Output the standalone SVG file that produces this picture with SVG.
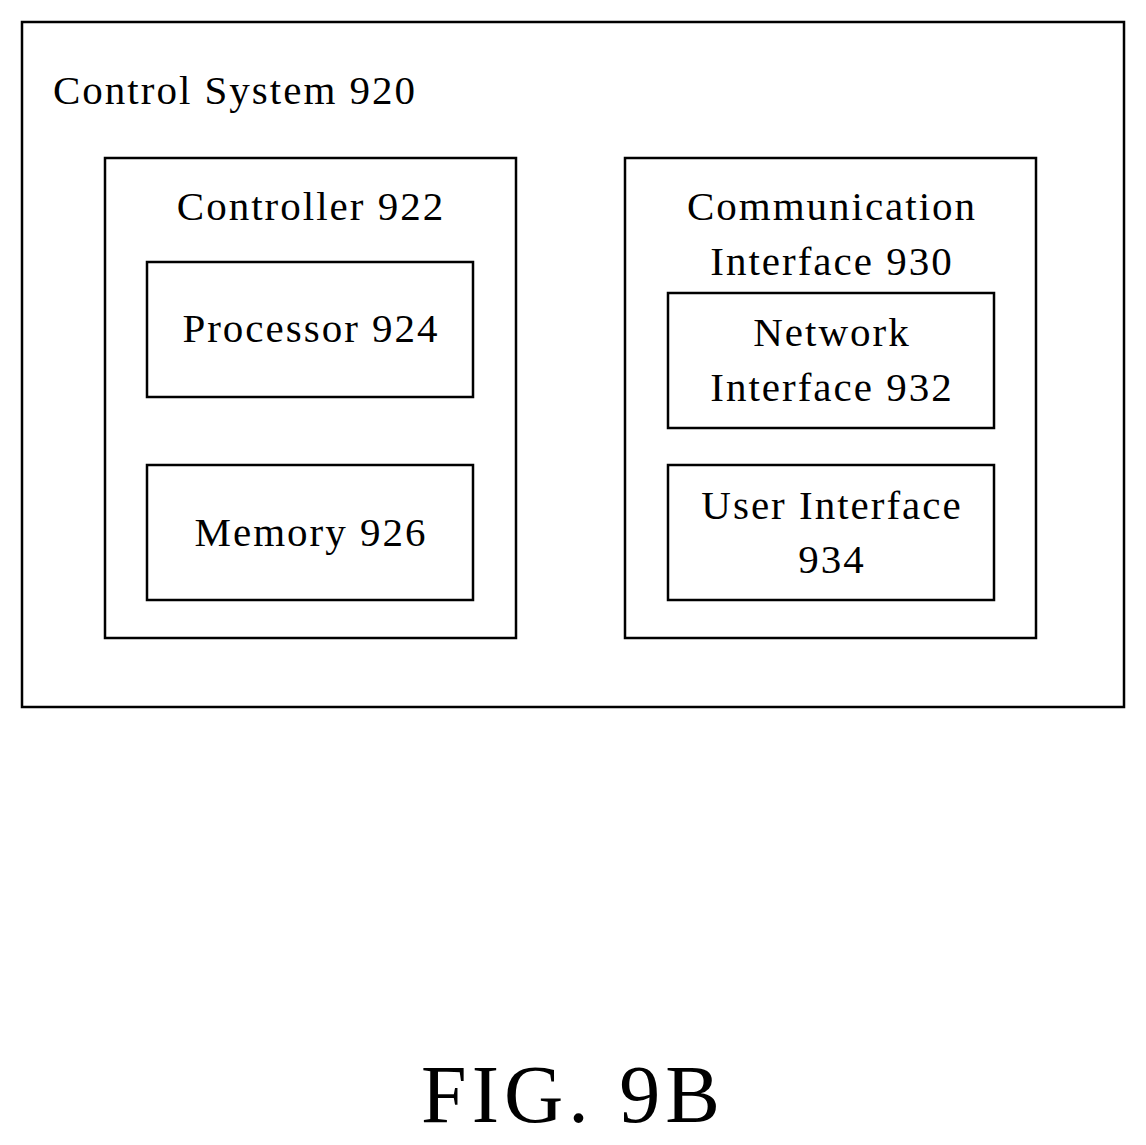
<svg xmlns="http://www.w3.org/2000/svg" width="1146" height="1145" viewBox="0 0 1146 1145">
<style>
rect{fill:none;stroke:#000;stroke-width:2.5}
text{font-family:"Liberation Serif",serif;font-size:41px;letter-spacing:2px;fill:#000}
.c{text-anchor:middle}
</style>
<rect x="0" y="0" width="1146" height="1145" style="fill:#fff;stroke:none"/>
<g id="control-system"><rect x="22" y="22" width="1102" height="685"/><text x="53" y="104">Control System 920</text></g>
<g id="controller"><rect x="105" y="158" width="411" height="480"/><text class="c" x="311" y="220">Controller 922</text></g>
<g id="processor"><rect x="147" y="262" width="326" height="135"/><text class="c" x="311" y="342">Processor 924</text></g>
<g id="memory"><rect x="147" y="465" width="326" height="135"/><text class="c" x="311" y="546">Memory 926</text></g>
<g id="comm"><rect x="625" y="158" width="411" height="480"/><text class="c" x="832" y="220">Communication</text><text class="c" x="832" y="275">Interface 930</text></g>
<g id="network"><rect x="668" y="293" width="326" height="135"/><text class="c" x="832" y="346">Network</text><text class="c" x="832" y="401">Interface 932</text></g>
<g id="user"><rect x="668" y="465" width="326" height="135"/><text class="c" x="832" y="519">User Interface</text><text class="c" x="832" y="573">934</text></g>
<g id="connectors"></g>
<text class="c" x="573" y="1122" style="font-size:82px;letter-spacing:5px">FIG. 9B</text>
</svg>
